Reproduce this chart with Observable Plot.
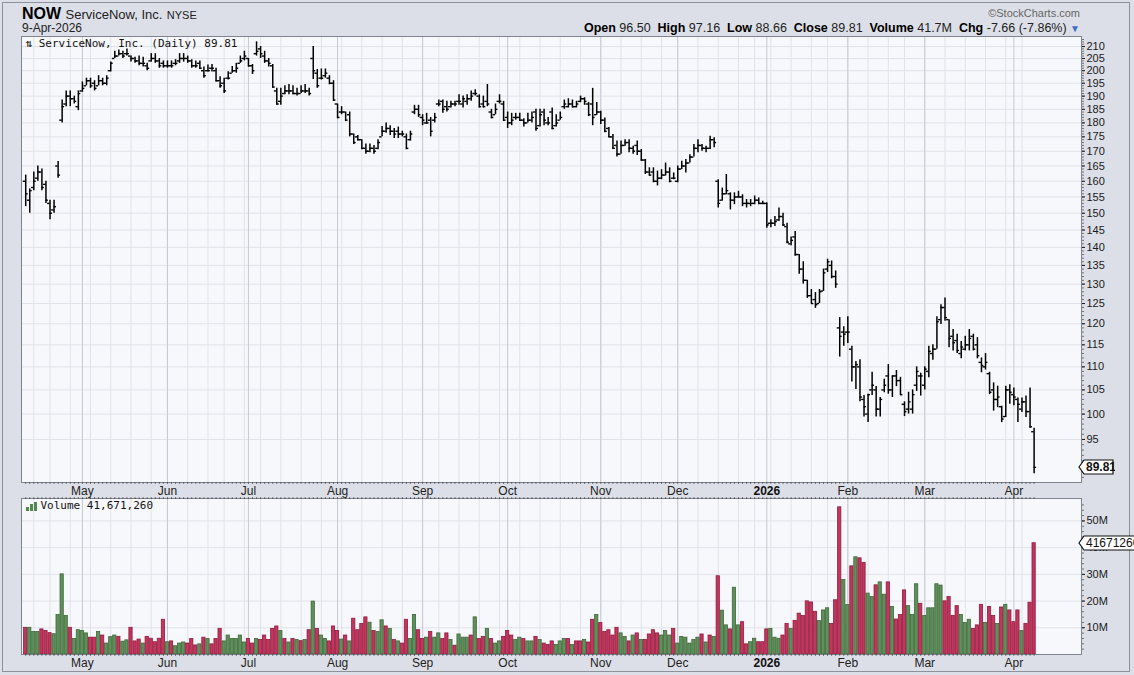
<!DOCTYPE html>
<html><head><meta charset="utf-8">
<script src="https://cdn.jsdelivr.net/npm/d3@7"></script>
<script src="https://cdn.jsdelivr.net/npm/@observablehq/plot@0.6"></script>
<style>
body{margin:0;background:#dcdfe7;font-family:"Liberation Sans",Arial,sans-serif;color:#111;}
#wrap{position:relative;width:1134px;height:675px;overflow:hidden;background:#dcdfe7;}
.abs{position:absolute;white-space:nowrap;}
#border{position:absolute;left:2px;top:2px;width:1126px;height:668px;border:1px solid #8d919a;}
.lbl{font-weight:bold;color:#000;}
</style></head><body><div id="wrap"><div id="border"></div></div>
<script>
// ---------- DATA ----------
const firstDay = "2025-04-10", lastDay = "2026-04-09";
const holidays = ["2025-04-18","2025-05-26","2025-06-19","2025-07-04","2025-09-01","2025-11-27","2025-12-25","2026-01-01","2026-01-19","2026-02-16","2026-04-03"];
const monthNames = ["Jan","Feb","Mar","Apr","May","Jun","Jul","Aug","Sep","Oct","Nov","Dec"];
const priceTicks = [95,100,105,110,115,120,125,130,135,140,145,150,155,160,165,170,175,180,185,190,195,200,205,210];
const volumeTicks = [10,20,30,40,50];

const open = [160,154,158,161,163,159,153,151,165,181,
187,190,189,186,192,194,196,195,194,196,
195,200,205,206,207,207,206,205,204,203,
202,204,205,204,203,202,202,203,204,205,
205,204,202,203,200,200,201,200,196,195,
197,199,200,203,205,205,202,207,209,206,
204,202,192,188,191,192,192,191,191,192,
192,205,199,197,198,197,195,187,184,184,
183,176,175,174,171,170,171,171,175,177,
178,177,177,176,175,174,184,185,182,180,
181,181,187,188,186,186,187,188,187,188,
189,191,190,187,188,184,183,188,187,182,
180,182,182,181,180,181,184,179,184,180,
184,179,181,186,186,187,186,188,189,187,
187,183,184,181,178,175,172,169,172,173,
171,172,170,167,163,163,160,161,162,163,
161,160,164,165,166,168,171,172,171,171,
174,160,154,156,156,154,155,155,153,153,
153,154,153,153,147,147,148,149,146,141,
143,138,134,131,127,126,125,128.2,134,135,
132,119,118,118,114,110,110,103,100,105,
105,101,105,108,105,108,107,102,101,101,
106,108,106,109,113,114,121,124,121,117,
116,113,114,115,117,115,111,110,108.5,105,
103,101.5,99.5,105,104,103,101,102.5,100.5,96.5];

const high = [162,157.5,163,165,164,160,154,154,166.5,188.5,
192,192,190,192,195.5,197,197,196,198,197,
198,203.5,208,208.5,208,209,206,205.5,206,205.5,
203,207,207,205,204,204,204,204.5,207,207,
206,204.5,204,204,201.5,202.3,202.5,201,197.6,197,
199.6,201.7,203,206,208,205,202.5,212,210,208,
205,202.5,193,193,194,194.5,194,193,194,194.5,
193,210,200.5,200.7,200.7,198,196,187,186,184,
184,176,175.5,174,172.5,172.5,172,174,178.7,180,
179,178,178.5,177,176,177,186.5,186.5,183,183.5,
182,183.5,188.5,188.5,188,188,188,190.5,190,190.5,
192,192.5,190.5,190,194.5,185,187,190.5,188,184,
183.5,183.5,183.5,181.5,183.5,184,185,185,185,182,
185.5,183,184,188.5,189,188.5,188,190,189.4,187.6,
193,187.6,184.3,181.8,178.3,175.8,173.5,173.5,174,174,
171.7,173.5,170.6,167.2,164.4,164.4,163.3,163.8,166,164.4,
162.7,165,166.6,167.2,168.8,172.3,174,172.3,171.7,175.2,
174.7,160.5,157.8,162.2,156.3,156.3,156.8,155.7,154.2,154.2,
155.3,154.7,153.7,153.2,148,149,151.6,150,147,143,
144.6,138,136,131,128.6,127.8,128.6,134,136.7,136.2,
133.5,121.5,119.3,121.7,114.7,111.2,111.6,103.8,104.1,108.8,
105.7,103.4,107.3,110.5,108,109.2,107.7,102.5,104.5,105,
110,108.6,110,114.7,115,121.7,124.7,126.4,121,118.6,
117.5,115.8,117,118.6,117.5,116.7,112,113,108.8,106.5,
105.8,101.6,105.8,106.1,105.4,103.3,103.3,103.7,105.4,97.16];

const low = [152,150,157,160,157,153,148,150,161,180,
186,186,187,184.5,191.5,194,193,192,194,194,
194,199.5,205,206,205,206,203.5,203,202,201.5,
200,203.5,203,201,201,201,201,202,203,203.5,
203,201,201,200.5,197,199.5,199.5,195.5,193,191,
196.3,199,199,203,204,201.5,198.5,206,205,203,
201.5,193,186.5,186.5,190.5,190.5,190.5,190,191,191,
190,196.5,193,196.3,197,194.4,188,181.5,183,180.5,
175,172.3,173.5,170.5,169,169.5,169,170.5,175,176.3,
175.5,174.4,174.4,175,170.5,173.5,183,182,179,179.5,
175,180,186,183.5,184,185.5,186,186.5,185.5,186.5,
188,190,185.5,185.5,186,181.5,183,187,180.5,178,
179,181,180.5,178.5,180,180,177,178.5,179,179,
177.5,178.5,181,185,185.5,185.5,185.5,187.5,186.5,182.3,
179,182.8,179.4,176.5,174.7,170.6,168,169,171.7,169.5,
169,168.5,166.6,162.2,161.7,159.5,158.5,160.5,161.7,159.5,
160.5,159.5,163.8,162.7,166,168,169.5,170,169.5,170.6,
171.2,151.6,153.7,155.7,151,152.6,154.7,152,151.6,152,
152.6,152.6,152.6,145.5,145.7,146,147.5,146,141,140.5,
137.5,132.6,130,126.3,125,123.8,125,128.1,133.1,131.4,
128.9,112.2,114.7,115.3,106.7,105.1,102.5,99.4,98.3,103.8,
99.4,99.4,104.4,104.1,103.4,105.7,103.8,99.5,100,100,
104.7,103.7,105,107.6,111.5,114,119.8,120.6,114.3,113.6,
113,111.8,113.6,113.6,113.6,111.8,108.7,109.3,104,100.6,
101.3,98.3,99.3,102,101.7,98.3,100.3,99.3,97.2,88.66];

const close = [156,157,160,163,158,154,150,152,162,186,
190,189,188,191,193,196,194,193,196,195,
197,203,206,207,206,207,205,204,203,203,
201,205,204,202,202,202,202,203,205,205,
204,202,202,201,198,200,201,196,194,192,
197,200,201,204,206,202,200,208,207,204,
203,193.5,187,190,192,192,191,191,192,192,
191,200,194,197,199,195,188.5,182,184,181,
176,173,174,171,170,171,170,173,177,178,
177,176,176,176,171,176,185,183,181,180,
177,182,187,185,185,187,187,188,189,189,
190,191,186,186,187,182,185,188,181,180,
181,182,181,180,181,182,178,183,181,180,
178,180,182,187,187,186,187,189,188,183,
182,184,181,177,175,171,169,172,173,171,
170,170,167,163,162,160,161,162,163,160,
161,164,165,166,168,171,172,171,171,174,
173,153,156,157,154,155,155,153,153,153,
154,153,153,146.5,147,147.5,149,146.5,141.5,142,
138,134,131,127,125,124.7,128,133,136,132,
130,117,117.5,118,110,110.5,103.5,101.5,104,106,
101,103,106,105,108,107,104,100.5,102.5,104,
109,108,109.5,113.5,114,120.5,124,121.5,116.5,115.5,
113.7,114.5,115,116.5,114,112.5,110.3,111,104.5,103,
103.5,99,105,104.5,103.5,102,102.5,100.5,97.47,89.81];

// volume in millions of shares
const volume = [10,10,8.4,8.4,9.4,8.8,8,7.6,14.8,30,
14.4,10,5.8,9.1,8.8,7.9,6.3,6.3,8.4,7.1,
4.1,6.5,7.1,6.6,4.8,5.3,10,4.9,5.6,4.1,
6.6,5.9,4.6,5.9,13,4.6,4.9,3.1,4.1,4.5,
4.1,5.8,3.4,3.8,6.3,5.8,3.8,5.8,9.6,4.9,
7.1,5.8,5.8,7.1,4.5,5.8,4.1,5.8,5.4,7.1,
5.4,9.6,10.5,8.8,5.8,4.5,5.8,5.4,5,5.4,
9.1,19.8,9.6,7.1,5.8,4.9,10.5,8.8,5.6,7.1,
4.9,13.4,9.1,11.4,13.9,11.9,8.8,8.4,12.8,10.5,
9.6,5.4,4.9,4.1,13,5.8,14.8,9.1,5.8,6.3,
8.4,6.3,7.9,5.8,7.9,5.4,3.3,7.5,6.3,6.3,
7.1,13.9,5.8,6.6,9.6,5.8,4.1,4.9,6.6,8.8,
7.1,5.4,6.3,5.8,4.9,4.9,6.6,5.4,4.1,3.6,
4.9,3.6,4.9,5.8,5.8,3.6,4.9,4.9,5.4,4.5,
13,14.8,11.8,8.4,9.1,7.1,10,7.9,6.6,4.9,
7.1,7.9,5.4,5.4,7.5,9.1,7.9,7.1,8.8,7.1,
9.6,4.1,6.6,6.3,4.1,5.4,6.3,7.5,4.5,7.1,
6.6,29.3,16.4,10.9,9.4,25,10.9,12.1,3.8,4.6,
5.9,4.6,4.6,9.4,9.6,6.3,5.9,7.1,11.4,9.6,
12.6,15.3,14.4,19.9,19.5,16,12.5,16.5,17.3,11.4,
20.3,55.1,27.9,18.5,33,36.4,36,34.3,22.8,21.5,
25.9,27,22.4,27,17.8,13.1,14.8,24,18.1,14.8,
26.3,19,14.4,17.3,17.3,26.3,25.8,19.9,21.5,14.4,
18.1,14.8,11.8,13,9.6,10.9,18.6,11.8,17.8,14.4,
11.4,17.6,18.6,16.5,12.1,16.5,8.8,11.4,19.4,41.67126];

// volume bar colour as drawn: g = up day (green), r = down day (red)
const volumeColour = ("rgggrrrggg" + "grggggrrgr" + "gggrggrrrg" + "rrrrrgrggg" + "rrrgrgrrrg" +
  "gggggrrgrr" + "rrrgrgrgrg" + "rgrggrrrgr" + "grrrrgrggr" + "grgrrggrrg" +
  "rggrrgrggg" + "rgrrgrggrr" + "rggrggrgrr" + "rgggrgrrgr" + "rgrrrrrggr" +
  "grgrrrrggg" + "rggggggrgr" + "grggrggrrg" + "grrrgggrrg" + "rrrrrrgggr" +
  "rrggrgrrgg" + "rggrgrrrgg" + "grgggggrrr" + "rgggrrrgrr" + "grgrrrgrrr").split("");

const symbol = "NOW", company = "ServiceNow, Inc.", exchange = "NYSE", asOf = "9-Apr-2026";
const lastVolume = "41,671,260", lastVolumeTag = "41671260";
const info = [["Open","96.50"],["High","97.16"],["Low","88.66"],["Close","89.81"],["Volume","41.7M"],["Chg","-7.66 (-7.86%)"]];

// ---------- BUILD ----------
const hol = new Set(holidays);
const dates = [];
for (let d = new Date(firstDay + "T00:00:00Z"); d <= new Date(lastDay + "T00:00:00Z"); d.setUTCDate(d.getUTCDate() + 1)) {
  const wd = d.getUTCDay(), s = d.toISOString().slice(0, 10);
  if (wd === 0 || wd === 6 || hol.has(s)) continue;
  dates.push(new Date(d));
}
const n = Math.min(dates.length, close.length, open.length, high.length, low.length, volume.length);
const bars = d3.range(n).map(i => ({i, date: dates[i], o: open[i], h: high[i], l: low[i], c: close[i], v: volume[i], up: volumeColour[i] === "g"}));
const monthStarts = bars.filter((b, k) => k > 0 && b.date.getUTCMonth() !== bars[k - 1].date.getUTCMonth())
  .map(b => ({i: b.i, label: b.date.getUTCMonth() === 0 ? String(b.date.getUTCFullYear()) : monthNames[b.date.getUTCMonth()], year: b.date.getUTCMonth() === 0}));
const weekStarts = bars.filter((b, k) => k > 0 && +d3.utcMonday.floor(b.date) !== +d3.utcMonday.floor(bars[k - 1].date)).map(b => b.i);
const monthIdx = monthStarts.map(m => m.i);
const xDomain = [-1.04, 260.7];

const FONT = "'Liberation Sans', Arial, sans-serif";
const MONO = "'DejaVu Sans Mono', monospace";
const PANEL = "#f7f8fb", GRID = "#e1e3ea", MGRID = "#c6c9d1", FRAME = "#80848e";
const wrap = document.getElementById("wrap");

function place(el, left, top) { el.style.position = "absolute"; el.style.left = left + "px"; el.style.top = top + "px"; wrap.appendChild(el); }
const noText = () => "";

// ---- price panel ----
const PRICE_TOP = 30;
const price = Plot.plot({
  width: 1134, height: 470, marginLeft: 21, marginRight: 53, marginTop: 6, marginBottom: 18,
  style: {background: "transparent", fontFamily: FONT, fontSize: "11px", color: "#1a1a1a", overflow: "visible"},
  x: {domain: xDomain, axis: null, label: null},
  y: {type: "log", domain: [87.1, 214.3], axis: null, label: null},
  marks: [
    Plot.frame({fill: PANEL}),
    Plot.ruleX(weekStarts, {stroke: GRID}),
    Plot.ruleY(priceTicks, {stroke: GRID}),
    Plot.ruleX(monthIdx, {stroke: MGRID}),
    Plot.ruleX(bars, {x: "i", y1: "l", y2: "h", stroke: "#000", strokeWidth: 1.5}),
    Plot.ruleY(bars, {x1: d => d.i - 0.6, x2: "i", y: "o", stroke: "#000", strokeWidth: 1.4}),
    Plot.ruleY(bars, {x1: "i", x2: d => d.i + 0.6, y: "c", stroke: "#000", strokeWidth: 1.4}),
    Plot.frame({stroke: FRAME}),
    Plot.axisY(d3.range(88, 214), {anchor: "right", tickSize: 2, tickFormat: noText, label: null, strokeOpacity: 0.55}),
    Plot.axisY(priceTicks, {anchor: "right", tickSize: 3, tickPadding: 2, tickFormat: d => String(d), label: null}),
    Plot.axisX(d3.range(n), {anchor: "bottom", tickSize: 2, tickFormat: noText, label: null, strokeOpacity: 0.5}),
    Plot.text(monthStarts.filter(m => !m.year), {x: "i", text: "label", frameAnchor: "bottom", lineAnchor: "top", dy: 4, fontSize: 12, fill: "#222"}),
    Plot.text(monthStarts.filter(m => m.year), {x: "i", text: "label", frameAnchor: "bottom", lineAnchor: "top", dy: 4, fontSize: 12, fontWeight: "bold", fill: "#111"}),
    Plot.text([`\u21C5 ${company} (Daily) ${close[n - 1]}`], {frameAnchor: "top-left", dx: 4, dy: 3, lineAnchor: "top", fontFamily: MONO, fontSize: 11, fill: "#111"})
  ]
});
place(price, 0, PRICE_TOP);

// ---- volume panel ----
const VOL_TOP = 488;
const vol = Plot.plot({
  width: 1134, height: 187, marginLeft: 21, marginRight: 53, marginTop: 10, marginBottom: 21,
  style: {background: "transparent", fontFamily: FONT, fontSize: "11px", color: "#1a1a1a", overflow: "visible"},
  x: {domain: xDomain, axis: null, label: null},
  y: {domain: [0, 58.4], axis: null, label: null},
  marks: [
    Plot.frame({fill: PANEL}),
    Plot.ruleX(weekStarts, {stroke: GRID}),
    Plot.ruleY(volumeTicks, {stroke: GRID}),
    Plot.ruleX(monthIdx, {stroke: MGRID}),
    Plot.rectY(bars, {x1: d => d.i - 0.4, x2: d => d.i + 0.4, y: "v",
      fill: d => d.up ? "#5f8f5a" : "#c4345c", stroke: d => d.up ? "#3c6838" : "#8e1c3e", strokeWidth: 0.8}),
    Plot.frame({stroke: FRAME}),
    Plot.axisY(d3.range(2, 58, 2), {anchor: "right", tickSize: 2, tickFormat: noText, label: null, strokeOpacity: 0.55}),
    Plot.axisY(volumeTicks, {anchor: "right", tickSize: 3, tickPadding: 2, tickFormat: d => d + "M", label: null}),
    Plot.axisX(d3.range(n), {anchor: "top", tickSize: 2, tickFormat: noText, label: null, strokeOpacity: 0.5}),
    Plot.axisX(d3.range(n), {anchor: "bottom", tickSize: 2, tickFormat: noText, label: null, strokeOpacity: 0.5}),
    Plot.text(monthStarts.filter(m => !m.year), {x: "i", text: "label", frameAnchor: "bottom", lineAnchor: "top", dy: 4, fontSize: 12, fill: "#222"}),
    Plot.text(monthStarts.filter(m => m.year), {x: "i", text: "label", frameAnchor: "bottom", lineAnchor: "top", dy: 4, fontSize: 12, fontWeight: "bold", fill: "#111"}),
    Plot.text([`Volume ${lastVolume}`], {frameAnchor: "top-left", dx: 19, dy: 3, lineAnchor: "top", fontFamily: MONO, fontSize: 11, fill: "#111"})
  ]
});
place(vol, 0, VOL_TOP);

// volume legend icon (three small green bars)
const icon = d3.create("svg").attr("width", 11).attr("height", 9);
[[0, 5], [4, 2], [8, 0]].forEach(([x, y]) => icon.append("rect").attr("x", x).attr("y", y).attr("width", 3).attr("height", 9 - y).attr("fill", "#4f8a4a"));
place(icon.node(), 26, VOL_TOP + 10 + 4);

// value tags on the right axis, positioned through the plots' own scales
function tag(text, cy, bold, w) {
  const h = 14;
  const s = d3.create("svg").attr("width", w + 2).attr("height", h + 2);
  s.append("path").attr("d", `M1,${h / 2 + 1} L6,1 L${w},1 L${w},${h + 1} L6,${h + 1} Z`).attr("fill", "#fff").attr("stroke", "#111").attr("stroke-width", 1.2);
  s.append("text").attr("x", 8).attr("y", h / 2 + 1).attr("dy", "0.35em").attr("font-family", FONT)
    .attr("font-size", 12).attr("font-weight", bold ? "bold" : "normal").attr("fill", "#111").text(text);
  place(s.node(), 1078, Math.round(cy - h / 2 - 1));
}
tag(close[n - 1].toFixed(2), PRICE_TOP + price.scale("y").apply(close[n - 1]), true, 35);
tag(lastVolumeTag, VOL_TOP + vol.scale("y").apply(volume[n - 1]), false, 70);

// ---- header ----
const h1 = document.createElement("div"); h1.className = "abs";
h1.innerHTML = `<span style="font-size:16px;font-weight:bold;color:#000">${symbol}</span> <span style="font-size:13px;color:#222">${company}</span> <span style="font-size:11px;color:#222">${exchange}</span>`;
place(h1, 22, 5);
const h2 = document.createElement("div"); h2.className = "abs"; h2.style.fontSize = "12px"; h2.style.color = "#222"; h2.textContent = asOf;
place(h2, 22, 21);
const sc = document.createElement("div"); sc.className = "abs"; sc.style.fontSize = "11px"; sc.style.color = "#666"; sc.style.right = "54px"; sc.style.top = "7px";
sc.textContent = "\u00A9StockCharts.com"; wrap.appendChild(sc);
const inf = document.createElement("div"); inf.className = "abs"; inf.style.fontSize = "12.5px"; inf.style.color = "#222"; inf.style.right = "54px"; inf.style.top = "21px";
inf.innerHTML = info.map(([k, v]) => `<span class="lbl">${k}</span> ${v}`).join("&nbsp; ") + ` <span style="color:#3b6fc6;font-size:10px">\u25BC</span>`;
wrap.appendChild(inf);
</script></body></html>
